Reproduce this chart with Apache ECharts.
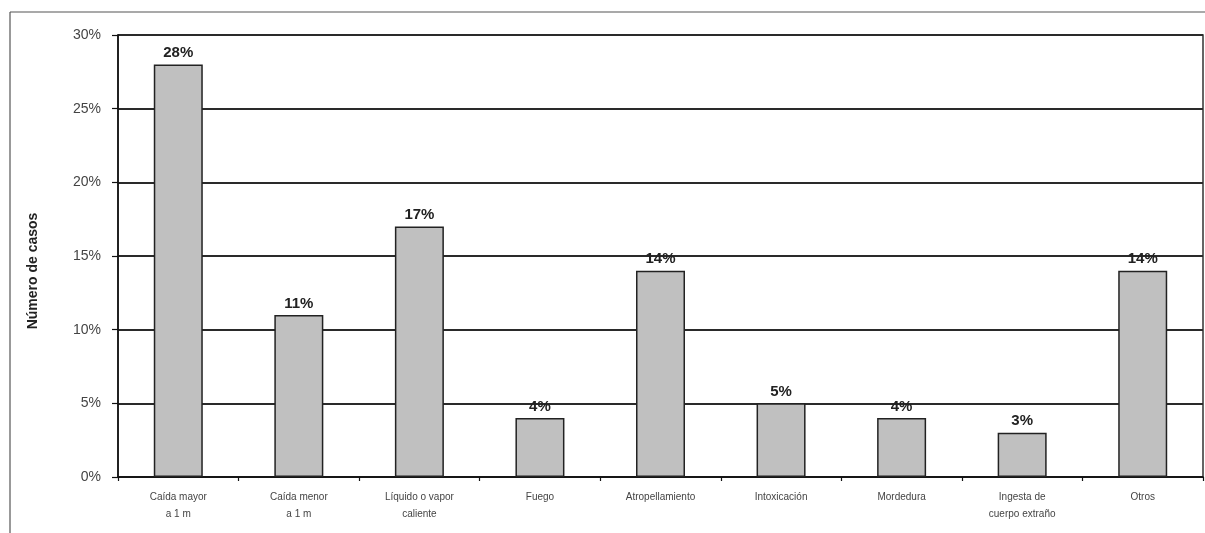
<!DOCTYPE html>
<html>
<head>
<meta charset="utf-8">
<script src="https://cdn.jsdelivr.net/npm/echarts@6/dist/echarts.min.js"></script>
<style>
  html, body { margin: 0; padding: 0; background: #fff; }
  #chart { width: 1205px; height: 533px; }
</style>
</head>
<body>
<div id="chart"></div>
<script>
// Causas de lesión: porcentaje de casos por categoría
const categories = [
  'Caída mayor\na 1 m',
  'Caída menor\na 1 m',
  'Líquido o vapor\ncaliente',
  'Fuego',
  'Atropellamiento',
  'Intoxicación',
  'Mordedura',
  'Ingesta de\ncuerpo extraño',
  'Otros'
];
const percentages = [28, 11, 17, 4, 14, 5, 4, 3, 14];
const yTicks = { min: 0, max: 30, step: 5 };
const yAxisTitle = 'Número de casos';

const FONT = '"Liberation Sans", Arial, sans-serif';
const chart = echarts.init(document.getElementById('chart'), null, { renderer: 'canvas' });

chart.setOption({
  animation: false,
  backgroundColor: '#ffffff',
  textStyle: { fontFamily: FONT },
  graphic: [
    // outer frame (top and left edges)
    { type: 'line', shape: { x1: 10, y1: 12, x2: 1205, y2: 12 }, style: { stroke: '#555', lineWidth: 1.2 }, z: 10 },
    { type: 'line', shape: { x1: 10, y1: 12, x2: 10, y2: 533 }, style: { stroke: '#555', lineWidth: 1.2 }, z: 10 }
  ],
  grid: {
    left: 118, right: 2, top: 35, bottom: 56,
    show: true, borderColor: '#333', borderWidth: 1.5, backgroundColor: 'transparent'
  },
  xAxis: {
    type: 'category',
    data: categories,
    axisLine: { lineStyle: { color: '#111', width: 1.6 } },
    axisTick: { show: true, length: 4, lineStyle: { color: '#111', width: 1.2 } },
    axisLabel: { interval: 0, fontSize: 10, lineHeight: 17, color: '#444', margin: 12, fontFamily: FONT },
    splitLine: { show: false }
  },
  yAxis: {
    type: 'value',
    min: yTicks.min, max: yTicks.max, interval: yTicks.step,
    name: yAxisTitle,
    nameLocation: 'middle',
    nameGap: 78,
    nameRotate: 90,
    nameTextStyle: { fontSize: 14, fontWeight: 'bold', color: '#222', fontFamily: FONT, padding: [0, 30, 0, 0] },
    axisLine: { show: true, lineStyle: { color: '#111', width: 1.6 } },
    axisTick: { show: true, length: 6, lineStyle: { color: '#111', width: 1.2 } },
    axisLabel: { formatter: '{value}%', fontSize: 14, color: '#444', margin: 17, fontFamily: FONT },
    splitLine: { show: true, lineStyle: { color: '#2a2a2a', width: 1.8 } }
  },
  series: [{
    type: 'bar',
    data: percentages,
    barWidth: 49,
    itemStyle: { color: '#c0c0c0', borderColor: '#222', borderWidth: 1.5 },
    label: {
      show: true, position: 'top', distance: 4,
      formatter: '{c}%', fontSize: 15, fontWeight: 'bold', color: '#222', fontFamily: FONT
    },
    z: 3
  }]
});
</script>
</body>
</html>
